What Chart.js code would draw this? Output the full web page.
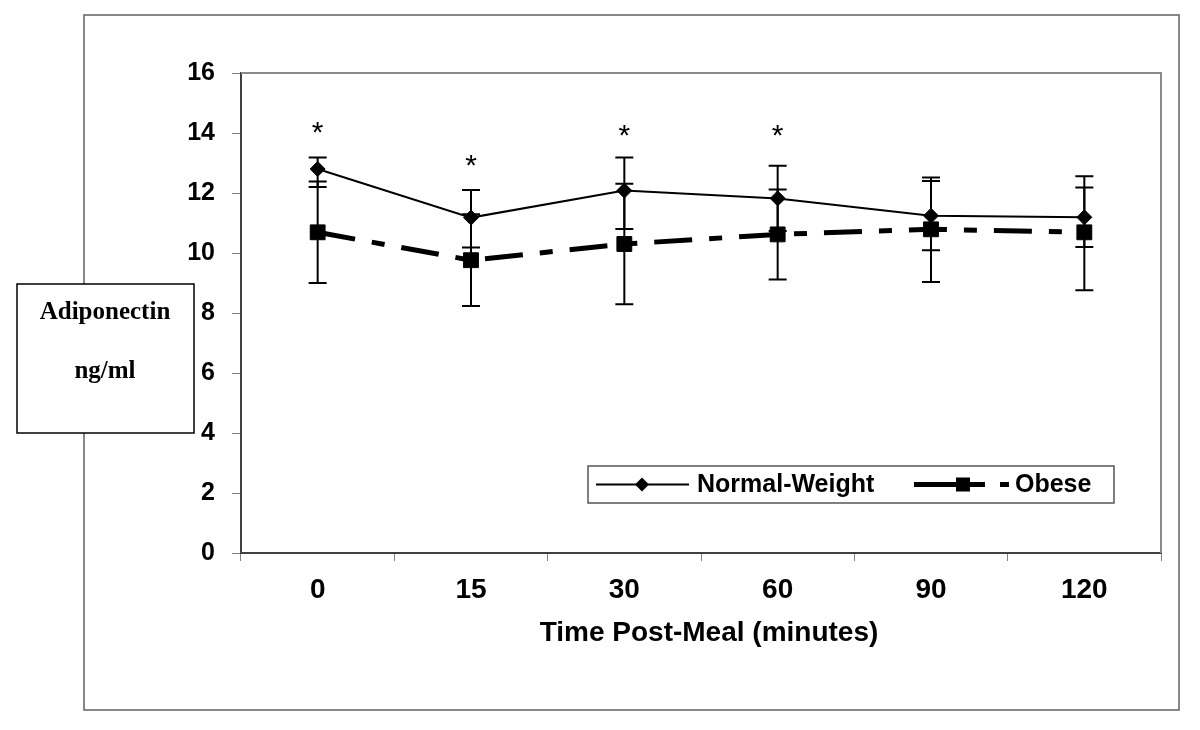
<!DOCTYPE html>
<html>
<head>
<meta charset="utf-8">
<script src="https://cdn.jsdelivr.net/npm/chart.js@4"></script>
<style>
  html, body { margin: 0; padding: 0; background: #fff; }
  canvas { display: block; }
</style>
</head>
<body>
<canvas id="adipoChart" width="1200" height="730"></canvas>
<script>
// data
const timeLabels = ['0', '15', '30', '60', '90', '120'];
const normalMean = [12.8, 11.18, 12.08, 11.82, 11.24, 11.19];
const normalHigh = [13.18, 12.1, 13.18, 12.91, 12.4, 12.18];
const normalLow  = [12.2, 10.18, 10.8, 10.73, 10.09, 10.2];
const obeseMean  = [10.69, 9.76, 10.3, 10.62, 10.79, 10.69];
const obeseHigh  = [12.38, 11.29, 12.31, 12.12, 12.52, 12.56];
const obeseLow   = [9.0, 8.23, 8.29, 9.12, 9.03, 8.76];
const sigMarks   = [14.2, 13.1, 14.1, 14.1, null, null];
const yTicks = [0, 2, 4, 6, 8, 10, 12, 14, 16];

const SANS = "'Liberation Sans', Arial, sans-serif";
const NARROW = "'Liberation Sans Narrow', 'Liberation Sans', Arial, sans-serif";
const SERIF = "'Liberation Serif', 'Times New Roman', serif";

const decor = {
  id: 'decor',
  beforeDatasetsDraw(chart) {
    const ctx = chart.ctx;
    const a = chart.chartArea;
    const x = chart.scales.x, y = chart.scales.y;
    ctx.save();
    // plot frame top + right
    ctx.strokeStyle = '#8a8a8a';
    ctx.lineWidth = 2;
    ctx.beginPath();
    ctx.moveTo(a.left, a.top);
    ctx.lineTo(a.right, a.top);
    ctx.lineTo(a.right, a.bottom);
    ctx.stroke();
    // error bars
    ctx.strokeStyle = '#000';
    ctx.lineWidth = 2;
    const bars = [[normalLow, normalHigh], [obeseLow, obeseHigh]];
    bars.forEach(([lo, hi]) => {
      lo.forEach((v, i) => {
        const px = x.getPixelForValue(i);
        const y1 = y.getPixelForValue(v), y2 = y.getPixelForValue(hi[i]);
        ctx.beginPath();
        ctx.moveTo(px, y1); ctx.lineTo(px, y2);
        ctx.moveTo(px - 9, y1); ctx.lineTo(px + 9, y1);
        ctx.moveTo(px - 9, y2); ctx.lineTo(px + 9, y2);
        ctx.stroke();
      });
    });
    ctx.restore();
  },
  afterDraw(chart) {
    const ctx = chart.ctx;
    const x = chart.scales.x, y = chart.scales.y;
    ctx.save();
    // significance asterisks
    ctx.fillStyle = '#000';
    ctx.font = '30px ' + SANS;
    ctx.textAlign = 'center';
    ctx.textBaseline = 'alphabetic';
    const m = ctx.measureText('*');
    const off = (m.actualBoundingBoxAscent - m.actualBoundingBoxDescent) / 2;
    sigMarks.forEach((v, i) => {
      if (v == null) return;
      ctx.fillText('*', x.getPixelForValue(i), y.getPixelForValue(v) + off);
    });

    // x title
    ctx.font = 'bold 28px ' + NARROW;
    ctx.textBaseline = 'middle';
    ctx.fillText('Time Post-Meal (minutes)', 709, 633);

    // legend
    ctx.strokeStyle = '#555';
    ctx.lineWidth = 1.5;
    ctx.strokeRect(588, 466, 526, 37);
    const ly = 484.5;
    ctx.strokeStyle = '#000';
    ctx.lineWidth = 2;
    ctx.beginPath(); ctx.moveTo(596, ly); ctx.lineTo(689, ly); ctx.stroke();
    ctx.beginPath();
    ctx.moveTo(642, ly - 7); ctx.lineTo(649, ly); ctx.lineTo(642, ly + 7); ctx.lineTo(635, ly);
    ctx.closePath(); ctx.fill();
    ctx.lineWidth = 5;
    ctx.beginPath(); ctx.moveTo(914, ly); ctx.lineTo(985, ly); ctx.moveTo(1000, ly); ctx.lineTo(1009, ly); ctx.stroke();
    ctx.fillRect(956, ly - 7, 14, 14);
    ctx.font = 'bold 25px ' + SANS;
    ctx.textAlign = 'left';
    ctx.fillText('Normal-Weight', 697, ly + 1);
    ctx.fillText('Obese', 1015, ly + 1);

    // outer frame
    ctx.strokeStyle = '#606060';
    ctx.lineWidth = 1.5;
    ctx.strokeRect(84, 15, 1095, 695);

    // y label box
    ctx.fillStyle = '#fff';
    ctx.fillRect(17, 284, 177, 149);
    ctx.strokeStyle = '#000';
    ctx.lineWidth = 1.5;
    ctx.strokeRect(17, 284, 177, 149);
    ctx.fillStyle = '#000';
    ctx.font = 'bold 25px ' + SERIF;
    ctx.textAlign = 'center';
    ctx.textBaseline = 'alphabetic';
    ctx.fillText('Adiponectin', 105, 319);
    ctx.fillText('ng/ml', 105, 378);
    ctx.restore();
  }
};

const CHART = document.getElementById('adipoChart');
let adipoChart = new Chart(CHART, {
  type: 'line',
  data: {
    labels: timeLabels,
    datasets: [
      {
        label: 'Normal-Weight',
        data: normalMean,
        borderColor: '#000',
        backgroundColor: '#000',
        borderWidth: 2,
        fill: false,
        tension: 0,
        pointStyle: 'rectRot',
        pointRadius: 7.5,
        pointBackgroundColor: '#000',
        pointBorderColor: '#000',
        pointBorderWidth: 1
      },
      {
        label: 'Obese',
        data: obeseMean,
        borderColor: '#000',
        backgroundColor: '#000',
        borderWidth: 5,
        borderDash: [38, 17, 13, 17],
        fill: false,
        tension: 0,
        pointStyle: 'rect',
        pointRadius: 10.5,
        pointBackgroundColor: '#000',
        pointBorderColor: '#000',
        pointBorderWidth: 1
      }
    ]
  },
  options: {
    responsive: false,
    animation: false,
    devicePixelRatio: 1,
    layout: { padding: { left: 0, top: 73, right: 39, bottom: 0 } },
    plugins: { legend: { display: false }, tooltip: { enabled: false } },
    scales: {
      x: {
        type: 'category',
        offset: true,
        grid: { offset: true, drawOnChartArea: false, drawTicks: true, tickLength: 8, color: '#808080' },
        border: { display: true, color: '#404040', width: 2 },
        ticks: { color: '#000', font: { family: NARROW, size: 28, weight: 'bold' }, padding: 12, maxRotation: 0 },
        afterFit: s => { s.height = 177; }
      },
      y: {
        min: 0,
        max: 16,
        afterBuildTicks: s => { s.ticks = yTicks.map(v => ({ value: v })); },
        grid: { drawOnChartArea: false, drawTicks: true, tickLength: 9, color: '#808080' },
        border: { display: true, color: '#404040', width: 2 },
        ticks: { color: '#000', font: { family: SANS, size: 25, weight: 'bold' }, padding: 17 },
        afterFit: s => { s.width = 241; }
      }
    }
  },
  plugins: [decor]
});
</script>
</body>
</html>
